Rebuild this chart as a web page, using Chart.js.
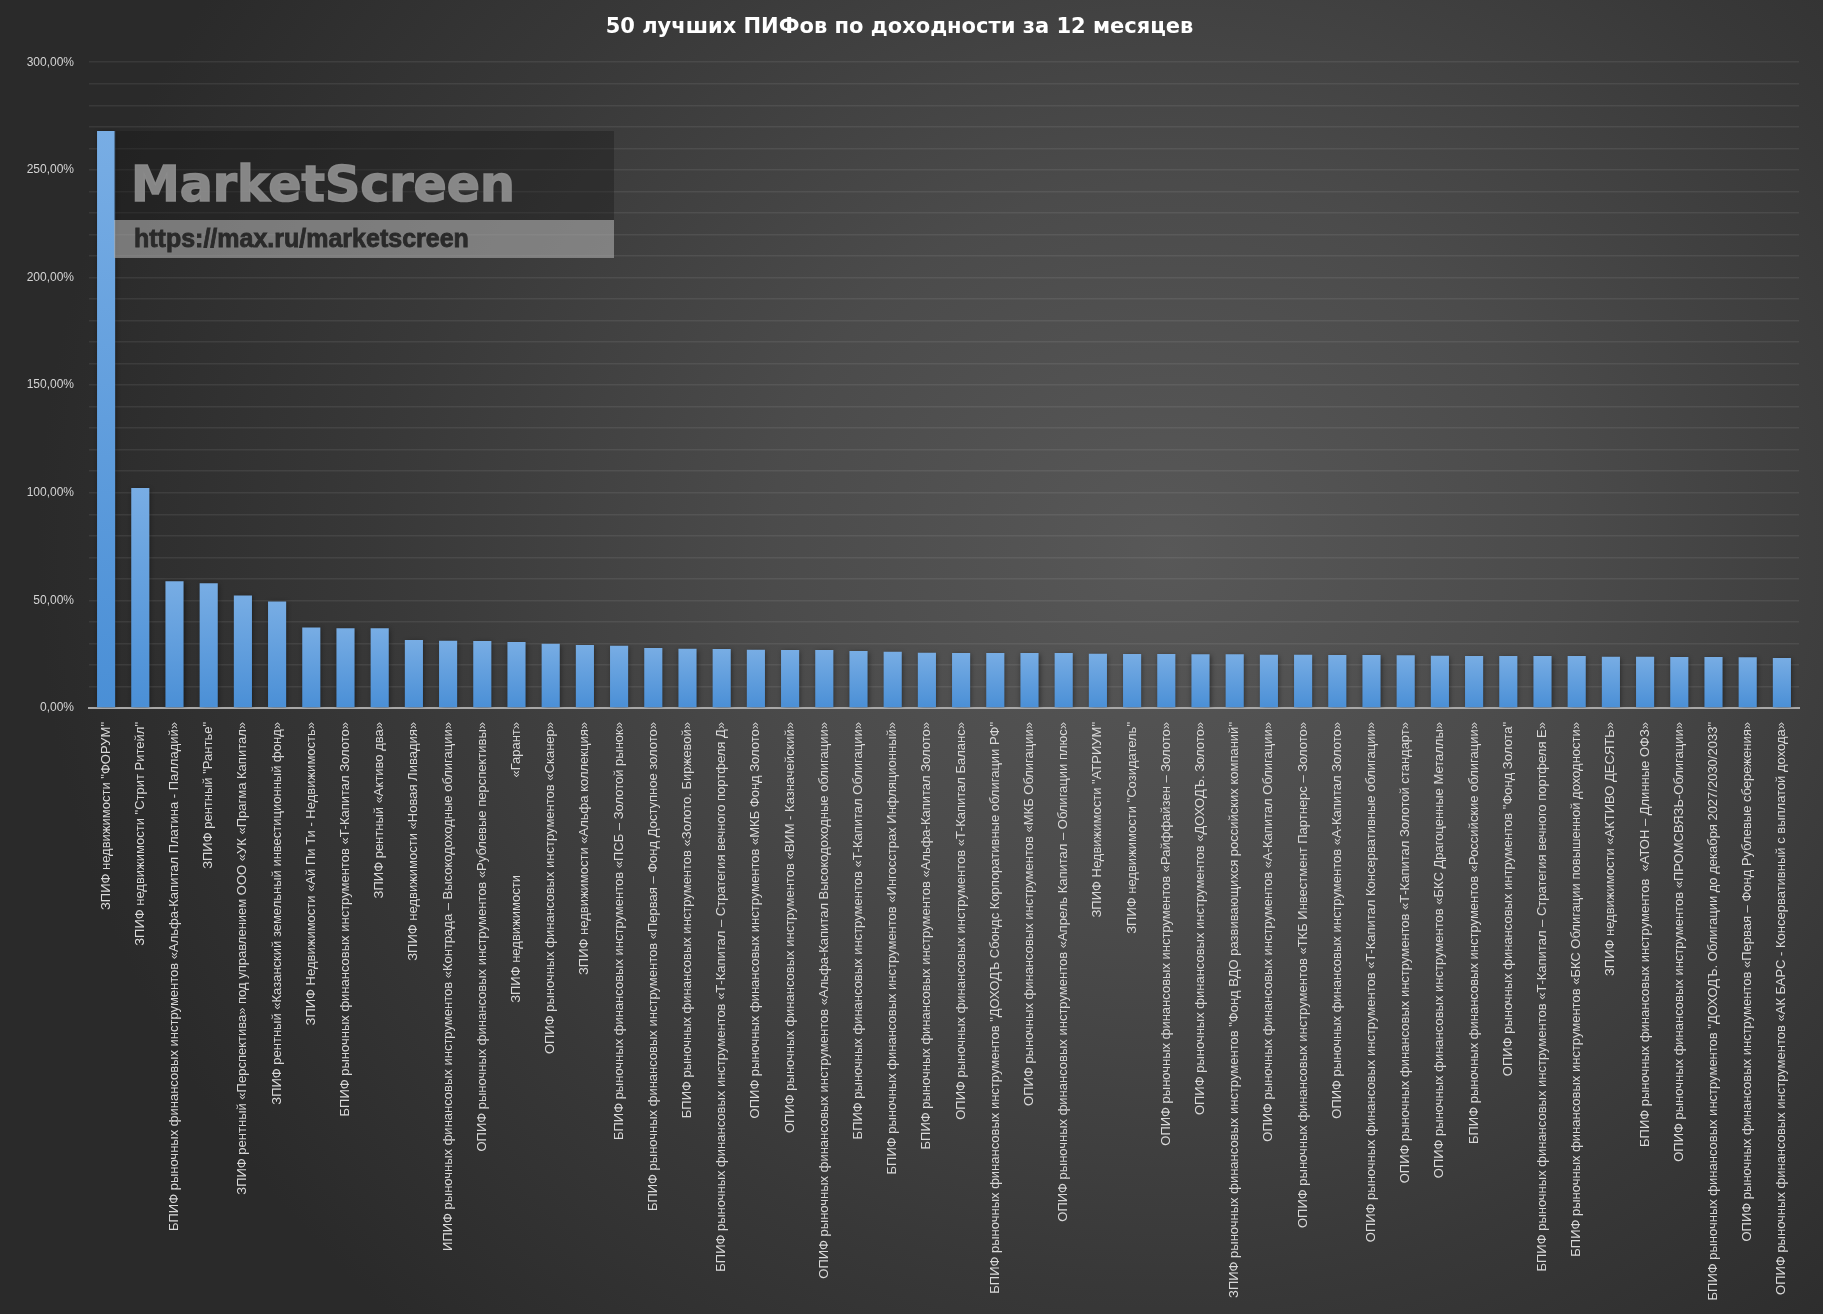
<!DOCTYPE html>
<html lang="ru">
<head>
<meta charset="utf-8">
<title>50 лучших ПИФов по доходности за 12 месяцев</title>
<script src="https://cdn.jsdelivr.net/npm/chart.js@4.4.1/dist/chart.umd.min.js"></script>
<style>
  html, body { margin: 0; padding: 0; background: #2b2b2b; }
  #wrap {
    width: 1823px; height: 1314px;
    background: radial-gradient(ellipse 62% 80% at 64% 42%, #585858 0%, #4b4b4b 35%, #383838 70%, #2a2a2a 100%);
  }
</style>
</head>
<body>
<div id="wrap"><canvas id="chart" width="1823" height="1314"></canvas></div>
<script>
// 50 best mutual funds by 12-month return

const chartTitle = '50 лучших ПИФов по доходности за 12 месяцев';

const fundNames = [
  'ЗПИФ недвижимости "ФОРУМ"',
  'ЗПИФ недвижимости "Стрит Ритейл"',
  'БПИФ рыночных финансовых инструментов «Альфа-Капитал Платина - Палладий»',
  'ЗПИФ рентный "Рантье"',
  'ЗПИФ рентный «Перспектива» под управлением ООО «УК «Прагма Капитал»',
  'ЗПИФ рентный «Казанский земельный инвестиционный фонд»',
  'ЗПИФ Недвижимости «Ай Пи Ти - Недвижимость»',
  'БПИФ рыночных финансовых инструментов «Т-Капитал Золото»',
  'ЗПИФ рентный «Активо два»',
  'ЗПИФ недвижимости «Новая Ливадия»',
  'ИПИФ рыночных финансовых инструментов «Контрада – Высокодоходные облигации»',
  'ОПИФ рыночных финансовых инструментов «Рублевые перспективы»',
  'ЗПИФ недвижимости                           «Гарант»',
  'ОПИФ рыночных финансовых инструментов «Сканер»',
  'ЗПИФ недвижимости «Альфа коллекция»',
  'БПИФ рыночных финансовых инструментов «ПСБ – Золотой рынок»',
  'БПИФ рыночных финансовых инструментов «Первая – Фонд Доступное золото»',
  'БПИФ рыночных финансовых инструментов «Золото. Биржевой»',
  'БПИФ рыночных финансовых инструментов «Т-Капитал – Стратегия вечного портфеля Д»',
  'ОПИФ рыночных финансовых инструментов «МКБ Фонд Золото»',
  'ОПИФ рыночных финансовых инструментов «ВИМ - Казначейский»',
  'ОПИФ рыночных финансовых инструментов «Альфа-Капитал Высокодоходные облигации»',
  'БПИФ рыночных финансовых инструментов «Т-Капитал Облигации»',
  'БПИФ рыночных финансовых инструментов «Ингосстрах Инфляционный»',
  'БПИФ рыночных финансовых инструментов «Альфа-Капитал Золото»',
  'ОПИФ рыночных финансовых инструментов «Т-Капитал Баланс»',
  'БПИФ рыночных финансовых инструментов "ДОХОДЪ Сбондс Корпоративные облигации РФ"',
  'ОПИФ рыночных финансовых инструментов «МКБ Облигации»',
  'ОПИФ рыночных финансовых инструментов «Апрель Капитал – Облигации плюс»',
  'ЗПИФ Недвижимости "АТРИУМ"',
  'ЗПИФ недвижимости "Созидатель"',
  'ОПИФ рыночных финансовых инструментов «Райффайзен – Золото»',
  'ОПИФ рыночных финансовых инструментов «ДОХОДЪ. Золото»',
  'ЗПИФ рыночных финансовых инструментов "Фонд ВДО развивающихся российских компаний"',
  'ОПИФ рыночных финансовых инструментов «А-Капитал Облигации»',
  'ОПИФ рыночных финансовых инструментов «ТКБ Инвестмент Партнерс – Золото»',
  'ОПИФ рыночных финансовых инструментов «А-Капитал Золото»',
  'ОПИФ рыночных финансовых инструментов «Т-Капитал Консервативные облигации»',
  'ОПИФ рыночных финансовых инструментов «Т-Капитал Золотой стандарт»',
  'ОПИФ рыночных финансовых инструментов «БКС Драгоценные Металлы»',
  'БПИФ рыночных финансовых инструментов «Российские облигации»',
  'ОПИФ рыночных финансовых интрументов "Фонд Золота"',
  'БПИФ рыночных финансовых инструментов «Т-Капитал – Стратегия вечного портфеля Е»',
  'БПИФ рыночных финансовых инструментов «БКС Облигации повышенной доходности»',
  'ЗПИФ недвижимости «АКТИВО ДЕСЯТЬ»',
  'БПИФ рыночных финансовых инструментов  «АТОН – Длинные ОФЗ»',
  'ОПИФ рыночных финансовых инструментов «ПРОМСВЯЗЬ-Облигации»',
  'БПИФ рыночных финансовых инструментов "ДОХОДЪ. Облигации до декабря 2027/2030/2033"',
  'ОПИФ рыночных финансовых инструментов «Первая – Фонд Рублевые сбережения»',
  'ОПИФ рыночных финансовых инструментов «АК БАРС - Консервативный с выплатой дохода»'
];

// return over 12 months, %
const returns12m = [
  268.0, 102.2, 58.9, 57.9, 52.3, 49.5, 37.4, 37.1, 37.0, 31.6,
  31.2, 31.1, 30.7, 29.8, 29.3, 28.9, 27.9, 27.5, 27.4, 27.1,
  27.0, 26.9, 26.5, 26.1, 25.7, 25.6, 25.6, 25.5, 25.5, 25.2,
  25.1, 25.1, 25.0, 25.0, 24.7, 24.7, 24.6, 24.6, 24.5, 24.3,
  24.2, 24.2, 24.2, 24.1, 23.8, 23.8, 23.7, 23.7, 23.6, 23.2
];

const yLabelTicks = [0, 50, 100, 150, 200, 250, 300];

function pct(v) {
  return v.toFixed(2).replace('.', ',') + '%';
}

// bar fill: lighter at the top of every bar
function barFill(ctx) {
  const chart = ctx.chart;
  const y = chart.scales.y;
  if (!chart.chartArea || !y || ctx.parsed === undefined) return '#5b9bd5';
  const top = y.getPixelForValue(ctx.parsed.y);
  const bottom = y.getPixelForValue(0);
  if (!isFinite(top) || top === bottom) return '#5b9bd5';
  const g = chart.ctx.createLinearGradient(0, top, 0, bottom);
  g.addColorStop(0, '#78ade4');
  g.addColorStop(1, '#4a8fd6');
  return g;
}

const barShadow = {
  id: 'barShadow',
  beforeDatasetsDraw(chart) {
    const c = chart.ctx;
    c.save();
    c.shadowColor = 'rgba(0,0,0,0.45)';
    c.shadowBlur = 5;
    c.shadowOffsetX = 1;
    c.shadowOffsetY = 1;
  },
  afterDatasetsDraw(chart) {
    chart.ctx.restore();
  }
};

// MarketScreen watermark box
const watermark = {
  id: 'watermark',
  afterDatasetsDraw(chart) {
    const c = chart.ctx;
    c.save();
    c.fillStyle = 'rgba(20,20,20,0.35)';
    c.fillRect(114, 131, 500, 89);
    c.fillStyle = 'rgba(170,170,170,0.62)';
    c.fillRect(114, 220, 500, 38);
    c.textBaseline = 'alphabetic';
    c.textAlign = 'left';
    c.fillStyle = 'rgba(140,140,140,0.95)';
    c.strokeStyle = 'rgba(140,140,140,0.95)';
    c.lineWidth = 1.5;
    c.font = 'bold 49px "DejaVu Sans", sans-serif';
    c.fillText('MarketScreen', 131, 201);
    c.strokeText('MarketScreen', 131, 201);
    c.fillStyle = '#2a2a2a';
    c.strokeStyle = '#2a2a2a';
    c.lineWidth = 0.8;
    c.font = 'bold 25px "Liberation Sans", Arial, sans-serif';
    c.fillText('https://max.ru/marketscreen', 134, 247);
    c.strokeText('https://max.ru/marketscreen', 134, 247);
    c.restore();
  }
};

const chart = new Chart(document.getElementById('chart'), {
  type: 'bar',
  data: {
    labels: fundNames,
    datasets: [{
      label: 'Доходность за 12 месяцев',
      data: returns12m,
      backgroundColor: barFill,
      borderWidth: 0,
      barPercentage: 0.53,
      categoryPercentage: 1.0
    }]
  },
  options: {
    responsive: false,
    animation: false,
    layout: { padding: { left: 0, right: 24, top: 0, bottom: 0 } },
    plugins: {
      legend: { display: false },
      tooltip: { enabled: false },
      title: {
        display: true,
        text: chartTitle,
        color: '#ffffff',
        font: { family: '"DejaVu Sans", sans-serif', size: 21, weight: 'bold' },
        padding: { top: 15, bottom: 22 }
      }
    },
    scales: {
      x: {
        grid: { display: false },
        border: { display: true, color: '#a8a8a8', width: 2 },
        ticks: {
          color: '#d9d9d9',
          font: { family: '"Liberation Sans", Arial, sans-serif', size: 13 },
          autoSkip: false,
          minRotation: 90,
          maxRotation: 90,
          padding: 6
        },
        afterFit(scale) { scale.height = 606; }
      },
      y: {
        min: 0,
        max: 300,
        grid: {
          color: 'rgba(255,255,255,0.075)',
          lineWidth: 1.5,
          drawTicks: false
        },
        border: { display: false },
        ticks: {
          stepSize: 10,
          autoSkip: false,
          color: '#d4d4d4',
          padding: 15,
          font: { family: '"Liberation Sans", Arial, sans-serif', size: 12 },
          callback: v => yLabelTicks.includes(v) ? pct(v) : ''
        },
        afterFit(scale) { scale.width = 89; }
      }
    }
  },
  plugins: [barShadow, watermark]
});
</script>
</body>
</html>
